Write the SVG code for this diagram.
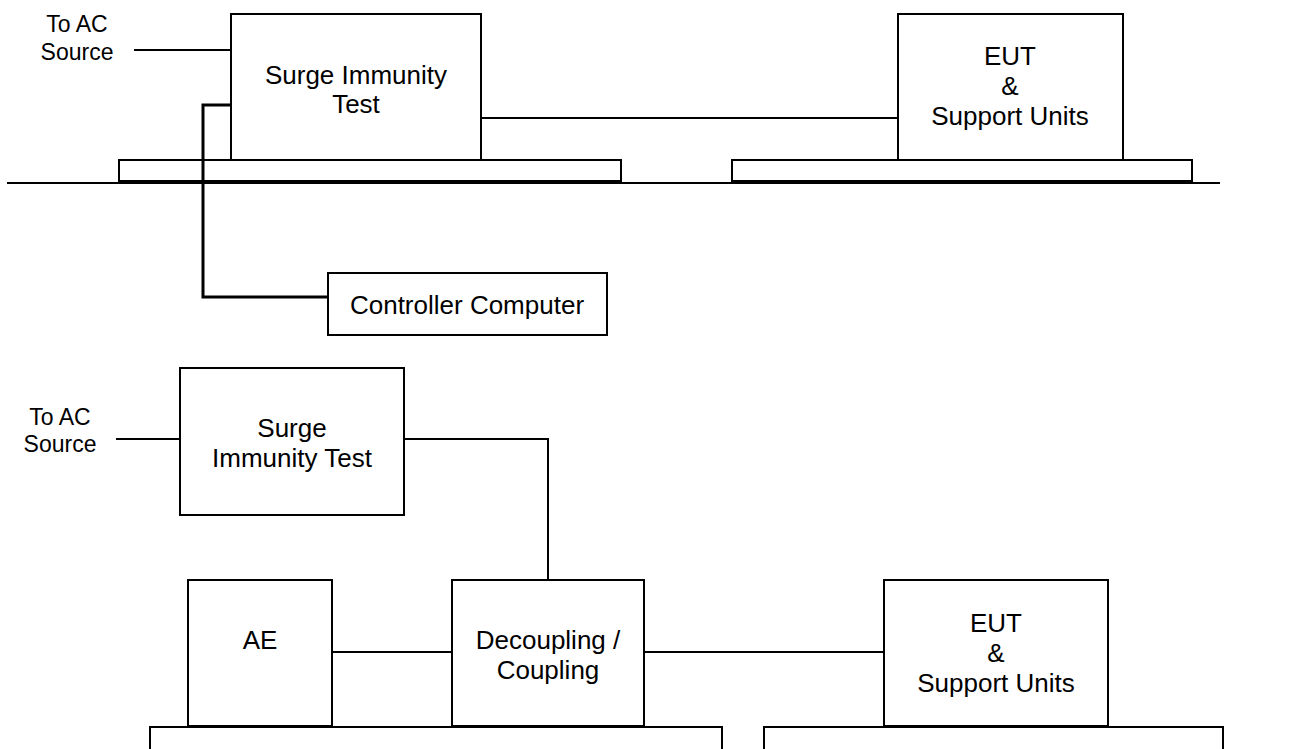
<svg xmlns="http://www.w3.org/2000/svg" width="1296" height="749" viewBox="0 0 1296 749">
<style>
.box{fill:#fff;stroke:#000;stroke-width:2}
.base{fill:#fff;stroke:#000;stroke-width:2}
.ln{fill:none;stroke:#000;stroke-width:2}
.thick{fill:none;stroke:#000;stroke-width:3}
text{font-family:"Liberation Sans",Arial,sans-serif;font-size:26px;fill:#000;text-anchor:middle}
.small{font-size:23px}
</style>
<rect width="1296" height="749" fill="#fff"/>
<g id="ground">
<line class="ln" x1="7" y1="183" x2="1220" y2="183"/>
</g>
<g id="table-top-left"><rect class="base" x="119" y="160" width="502" height="21"/></g>
<g id="table-top-right"><rect class="base" x="732" y="160" width="460" height="21"/></g>
<g id="table-bottom-left"><rect class="base" x="150" y="727" width="572" height="40"/></g>
<g id="table-bottom-right"><rect class="base" x="764" y="727" width="459" height="40"/></g>

<g id="connectors">
<line class="ln" x1="134" y1="50" x2="231" y2="50"/>
<line class="ln" x1="481" y1="118" x2="898" y2="118"/>
<polyline class="thick" points="231,105 203,105 203,297 328,297"/>
<line class="ln" x1="116" y1="439" x2="180" y2="439"/>
<polyline class="ln" points="404,439 548,439 548,580"/>
<line class="ln" x1="332" y1="652" x2="452" y2="652"/>
<line class="ln" x1="644" y1="652" x2="884" y2="652"/>
</g>

<g id="label-ac-top">
<text class="small" x="77" y="32">To AC</text>
<text class="small" x="77" y="60">Source</text>
</g>
<g id="surge-top">
<rect class="box" x="231" y="14" width="250" height="146"/>
<text x="356" y="84">Surge Immunity</text>
<text x="356" y="113">Test</text>
</g>
<g id="eut-top">
<rect class="box" x="898" y="14" width="225" height="146"/>
<text x="1010" y="65">EUT</text>
<text x="1010" y="95">&amp;</text>
<text x="1010" y="125">Support Units</text>
</g>
<g id="controller">
<rect class="box" x="328" y="273" width="279" height="62"/>
<text x="467" y="314">Controller Computer</text>
</g>

<g id="label-ac-bottom">
<text class="small" x="60" y="425">To AC</text>
<text class="small" x="60" y="452">Source</text>
</g>
<g id="surge-bottom">
<rect class="box" x="180" y="368" width="224" height="147"/>
<text x="292" y="437">Surge</text>
<text x="292" y="467">Immunity Test</text>
</g>
<g id="ae">
<rect class="box" x="188" y="580" width="144" height="146"/>
<text x="260" y="649">AE</text>
</g>
<g id="decoupling">
<rect class="box" x="452" y="580" width="192" height="146"/>
<text x="548" y="649">Decoupling /</text>
<text x="548" y="679">Coupling</text>
</g>
<g id="eut-bottom">
<rect class="box" x="884" y="580" width="224" height="146"/>
<text x="996" y="632">EUT</text>
<text x="996" y="662">&amp;</text>
<text x="996" y="692">Support Units</text>
</g>
</svg>
